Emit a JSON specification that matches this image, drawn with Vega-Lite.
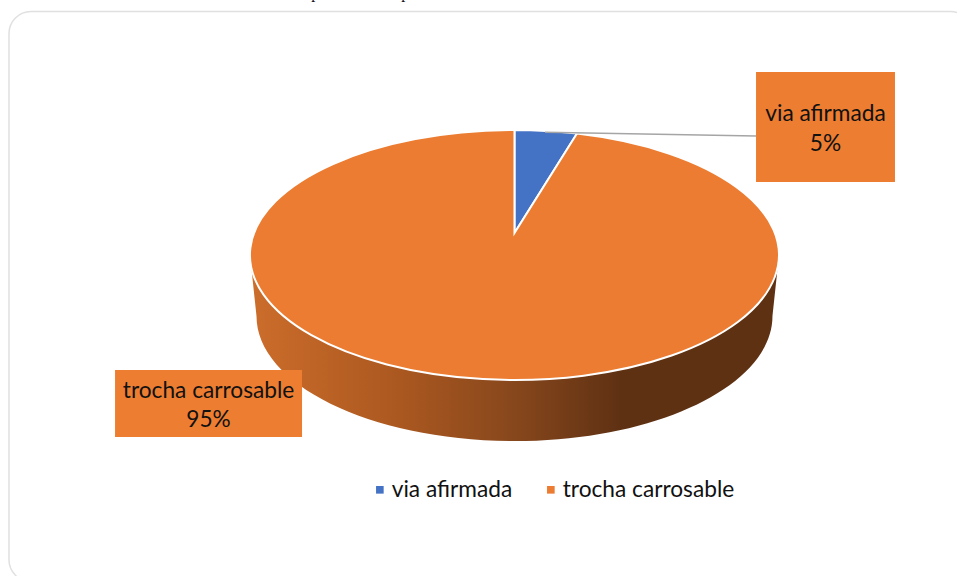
{
  "$schema": "https://vega.github.io/schema/vega-lite/v6.json",
  "width": 957,
  "height": 576,
  "padding": 0,
  "autosize": {"type": "none"},
  "background": "white",
  "view": {"stroke": null},
  "config": {
    "axis": {"disable": true},
    "text": {"font": "Lato", "fontSize": 22.7, "fill": "#111111"}
  },
  "data": {
    "values": [
      {"category": "via afirmada", "share": 0.05},
      {"category": "trocha carrosable", "share": 0.95}
    ]
  },
  "layer": [
    {
      "transform": [{"filter": "datum.category === 'via afirmada'"}],
      "mark": {"type": "rect", "fill": "white", "stroke": "#E0E0E0", "strokeWidth": 1.5, "cornerRadius": 22, "clip": true},
      "encoding": {
        "x": {"datum": 0.94, "type": "quantitative", "scale": {"domain": [0, 100]}},
        "x2": {"datum": 101.6},
        "y": {"datum": 2.0, "type": "quantitative", "scale": {"domain": [100, 0]}},
        "y2": {"datum": 101.0}
      }
    },
    {
      "transform": [{"filter": "datum.category === 'via afirmada'"}],
      "mark": {"type": "text", "text": "p", "font": "Liberation Serif", "fontSize": 16, "baseline": "alphabetic", "align": "center", "clip": true},
      "encoding": {
        "x": {"datum": 32.95, "type": "quantitative", "scale": {"domain": [0, 100]}},
        "y": {"datum": -0.35, "type": "quantitative", "scale": {"domain": [100, 0]}}
      }
    },
    {
      "transform": [{"filter": "datum.category === 'via afirmada'"}],
      "mark": {"type": "text", "text": "p", "font": "Liberation Serif", "fontSize": 16, "baseline": "alphabetic", "align": "center", "clip": true},
      "encoding": {
        "x": {"datum": 42.35, "type": "quantitative", "scale": {"domain": [0, 100]}},
        "y": {"datum": -0.35, "type": "quantitative", "scale": {"domain": [100, 0]}}
      }
    },
    {
      "transform": [{"filter": "datum.category === 'trocha carrosable'"}],
      "mark": {
        "type": "point",
        "filled": true,
        "opacity": 1,
        "size": 279841,
        "shape": "M-1,0 L-0.9754,0.2306 A0.9754,0.4726 0 0 0 0.9754,0.2306 L1,0 Z",
        "fill": {
          "gradient": "linear",
          "x1": 0, "y1": 0, "x2": 1, "y2": 0,
          "stops": [
            {"offset": 0, "color": "#CC6D2B"},
            {"offset": 0.28, "color": "#AB5820"},
            {"offset": 0.5, "color": "#87471C"},
            {"offset": 0.7, "color": "#5F3113"},
            {"offset": 1, "color": "#5F3113"}
          ]
        }
      },
      "encoding": {
        "x": {"datum": 53.76, "type": "quantitative", "scale": {"domain": [0, 100]}},
        "y": {"datum": 44.27, "type": "quantitative", "scale": {"domain": [100, 0]}}
      }
    },
    {
      "mark": {"type": "point", "filled": true, "opacity": 1, "size": 279841, "stroke": "white", "strokeWidth": 2},
      "encoding": {
        "x": {"datum": 53.76, "type": "quantitative", "scale": {"domain": [0, 100]}},
        "y": {"datum": 44.27, "type": "quantitative", "scale": {"domain": [100, 0]}},
        "fill": {
          "field": "category",
          "type": "nominal",
          "scale": {"domain": ["trocha carrosable", "via afirmada"], "range": ["#EB7C31", "#4472C4"]},
          "legend": null
        },
        "shape": {
          "field": "category",
          "type": "nominal",
          "legend": null,
          "scale": {
            "domain": ["trocha carrosable", "via afirmada"],
            "range": [
              "M0,-0.0832 L0,-0.4726 A1,0.4726 0 1 0 0.2363,-0.4592 Z",
              "M0,-0.0832 L0,-0.4726 A1,0.4726 0 0 1 0.2363,-0.4592 Z"
            ]
          }
        }
      }
    },
    {
      "mark": {"type": "square", "size": 58, "opacity": 1, "clip": true},
      "encoding": {
        "x": {"datum": -10, "type": "quantitative", "scale": {"domain": [0, 100]}},
        "y": {"datum": 50, "type": "quantitative", "scale": {"domain": [100, 0]}},
        "color": {
          "field": "category",
          "type": "nominal",
          "scale": {"domain": ["via afirmada", "trocha carrosable"], "range": ["#4472C4", "#EB7C31"]},
          "legend": {
            "title": null,
            "orient": "none",
            "legendX": 368.5,
            "legendY": 478,
            "direction": "horizontal",
            "symbolType": "square",
            "symbolSize": 58,
            "symbolStrokeWidth": 0,
            "labelFont": "Lato",
            "labelFontSize": 22.7,
            "labelColor": "#111111",
            "labelLimit": 300,
            "labelOffset": 0.5,
            "columnPadding": 27,
            "padding": 0
          }
        }
      }
    },
    {
      "transform": [{"filter": "datum.category === 'via afirmada'"}],
      "mark": {"type": "rule", "stroke": "#A5A5A5", "strokeWidth": 1.6},
      "encoding": {
        "x": {"datum": 56.95, "type": "quantitative", "scale": {"domain": [0, 100]}},
        "x2": {"datum": 79.0},
        "y": {"datum": 22.95, "type": "quantitative", "scale": {"domain": [100, 0]}},
        "y2": {"datum": 23.6}
      }
    },
    {
      "transform": [{"filter": "datum.category === 'via afirmada'"}],
      "mark": {"type": "rect", "fill": "#ED7D31"},
      "encoding": {
        "x": {"datum": 79.0, "type": "quantitative", "scale": {"domain": [0, 100]}},
        "x2": {"datum": 93.52},
        "y": {"datum": 12.5, "type": "quantitative", "scale": {"domain": [100, 0]}},
        "y2": {"datum": 31.6}
      }
    },
    {
      "transform": [{"filter": "datum.category === 'via afirmada'"}],
      "mark": {"type": "text", "align": "center", "baseline": "middle"},
      "encoding": {
        "x": {"datum": 86.26, "type": "quantitative", "scale": {"domain": [0, 100]}},
        "y": {"datum": 19.85, "type": "quantitative", "scale": {"domain": [100, 0]}},
        "text": {"field": "category"}
      }
    },
    {
      "transform": [{"filter": "datum.category === 'via afirmada'"}],
      "mark": {"type": "text", "align": "center", "baseline": "middle"},
      "encoding": {
        "x": {"datum": 86.26, "type": "quantitative", "scale": {"domain": [0, 100]}},
        "y": {"datum": 24.95, "type": "quantitative", "scale": {"domain": [100, 0]}},
        "text": {"field": "share", "format": ".0%"}
      }
    },
    {
      "transform": [{"filter": "datum.category === 'trocha carrosable'"}],
      "mark": {"type": "rect", "fill": "#ED7D31"},
      "encoding": {
        "x": {"datum": 12.02, "type": "quantitative", "scale": {"domain": [0, 100]}},
        "x2": {"datum": 31.56},
        "y": {"datum": 64.25, "type": "quantitative", "scale": {"domain": [100, 0]}},
        "y2": {"datum": 75.87}
      }
    },
    {
      "transform": [{"filter": "datum.category === 'trocha carrosable'"}],
      "mark": {"type": "text", "align": "center", "baseline": "middle"},
      "encoding": {
        "x": {"datum": 21.79, "type": "quantitative", "scale": {"domain": [0, 100]}},
        "y": {"datum": 67.85, "type": "quantitative", "scale": {"domain": [100, 0]}},
        "text": {"field": "category"}
      }
    },
    {
      "transform": [{"filter": "datum.category === 'trocha carrosable'"}],
      "mark": {"type": "text", "align": "center", "baseline": "middle"},
      "encoding": {
        "x": {"datum": 21.79, "type": "quantitative", "scale": {"domain": [0, 100]}},
        "y": {"datum": 72.85, "type": "quantitative", "scale": {"domain": [100, 0]}},
        "text": {"field": "share", "format": ".0%"}
      }
    }
  ]
}
